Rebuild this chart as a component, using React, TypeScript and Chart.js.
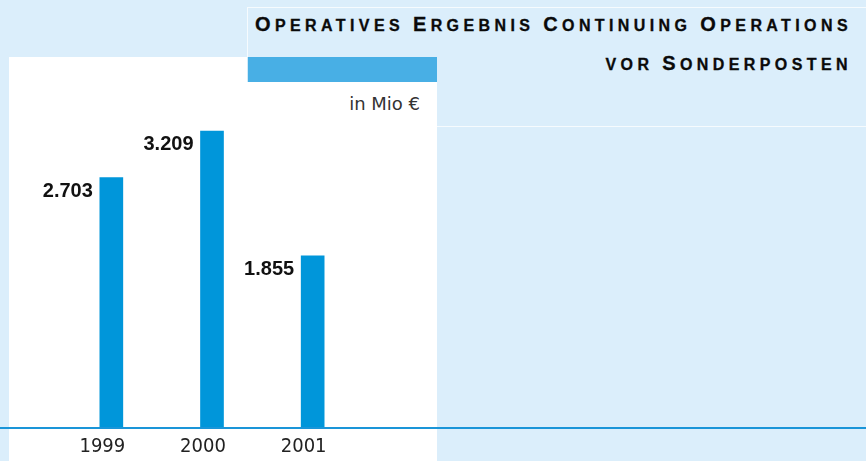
import React, { useEffect, useRef } from 'react';
import { Chart, registerables } from 'chart.js';

Chart.register(...registerables);

// ---- data ----
const categories: string[] = ['1999', '2000', '2001'];
const values: number[] = [2703, 3209, 1855];
const yMin = 0;
const yMax = 4000;
const unitLabel = 'in Mio €';
const titleLine1 = 'Operatives Ergebnis Continuing Operations';
const titleLine2 = 'vor Sonderposten';

// ---- styles ----
const PAGE_BG = '#dbeefb';
const BAR_COLOR = '#0096da';
const ACCENT = '#48afe5';
const AXIS_COLOR = '#1a95d8';

function formatDE(v: number): string {
  const s = String(Math.round(v));
  return s.replace(/\B(?=(\d{3})+(?!\d))/g, '.');
}

function SmallCaps({ text }: { text: string }) {
  const runs: { big: boolean; t: string }[] = [];
  for (const ch of text) {
    const big = ch !== ' ' && ch === ch.toUpperCase() && ch !== ch.toLowerCase();
    const last = runs[runs.length - 1];
    if (last && last.big === big) last.t += ch;
    else runs.push({ big, t: ch });
  }
  return (
    <>
      {runs.map((r, i) => (
        <span
          key={i}
          style={{ fontSize: r.big ? 20 : 16, textTransform: 'uppercase' }}
        >
          {r.t}
        </span>
      ))}
    </>
  );
}

const valueLabelsPlugin = {
  id: 'valueLabels',
  afterDatasetsDraw(chart: any) {
    const ctx = chart.ctx;
    const meta = chart.getDatasetMeta(0);
    ctx.save();
    ctx.font = 'bold 20px "Liberation Sans", Arial, sans-serif';
    ctx.fillStyle = '#111111';
    ctx.textAlign = 'right';
    ctx.textBaseline = 'alphabetic';
    meta.data.forEach((bar: any, i: number) => {
      const { x, y, width } = bar.getProps(['x', 'y', 'width'], true);
      ctx.fillText(formatDE(values[i]), x - width / 2 - 7, y + 19);
    });
    ctx.restore();
  },
};

const axisLinePlugin = {
  id: 'axisLine',
  afterDatasetsDraw(chart: any) {
    const ctx = chart.ctx;
    const y = Math.round(chart.scales.y.getPixelForValue(0));
    ctx.save();
    ctx.fillStyle = AXIS_COLOR;
    ctx.fillRect(0, y, chart.width, 2);
    ctx.restore();
  },
};

const titleStyle: React.CSSProperties = {
  position: 'absolute',
  right: 14,
  fontFamily: '"Liberation Sans", Arial, sans-serif',
  fontWeight: 'bold',
  fontSize: 20,
  lineHeight: '20px',
  letterSpacing: 4.4,
  color: '#0a0a0a',
  whiteSpace: 'nowrap',
  WebkitTextStroke: '0.3px #0a0a0a',
};

export default function App() {
  const canvasRef = useRef<HTMLCanvasElement | null>(null);

  useEffect(() => {
    if (!canvasRef.current) return;
    const chart = new Chart(canvasRef.current, {
      type: 'bar',
      data: {
        labels: categories,
        datasets: [
          {
            data: values,
            backgroundColor: BAR_COLOR,
            borderWidth: 0,
            barThickness: 23,
          },
        ],
      },
      options: {
        responsive: false,
        animation: false,
        devicePixelRatio: 1,
        layout: { padding: { left: 61, right: 503, top: 58, bottom: 0 } },
        plugins: {
          legend: { display: false },
          tooltip: { enabled: false },
          title: { display: false },
        },
        scales: {
          x: {
            grid: { display: false, drawTicks: false },
            border: { display: false },
            ticks: {
              color: '#222222',
              padding: 8,
              labelOffset: -9,
              font: { family: '"DejaVu Sans Condensed", "DejaVu Sans", sans-serif', size: 20 },
            },
            afterFit: (scale: any) => {
              scale.height = 34;
            },
          },
          y: {
            display: false,
            min: yMin,
            max: yMax,
          },
        },
      },
      plugins: [valueLabelsPlugin, axisLinePlugin],
    });
    return () => chart.destroy();
  }, []);

  return (
    <div
      style={{
        position: 'absolute',
        left: 0,
        top: 0,
        width: 866,
        height: 461,
        overflow: 'hidden',
        background: PAGE_BG,
      }}
    >
      <div
        style={{
          position: 'absolute',
          left: 9,
          top: 57,
          width: 428,
          height: 404,
          background: '#ffffff',
        }}
      />
      <div
        style={{
          position: 'absolute',
          left: 247,
          top: 57,
          width: 190,
          height: 25,
          background: ACCENT,
        }}
      />
      <div
        style={{
          position: 'absolute',
          left: 247,
          top: 7,
          width: 640,
          height: 118,
          border: '1px solid rgba(255,255,255,0.75)',
          pointerEvents: 'none',
        }}
      />
      <div style={{ ...titleStyle, top: 14 }}>
        <SmallCaps text={titleLine1} />
      </div>
      <div style={{ ...titleStyle, top: 53 }}>
        <SmallCaps text={titleLine2} />
      </div>
      <div
        style={{
          position: 'absolute',
          right: 446,
          top: 95,
          fontFamily: '"DejaVu Sans", sans-serif',
          fontSize: 18,
          lineHeight: '18px',
          color: '#333333',
          whiteSpace: 'nowrap',
        }}
      >
        {unitLabel}
      </div>
      <canvas
        ref={canvasRef}
        width={866}
        height={461}
        style={{ position: 'absolute', left: 0, top: 0, width: 866, height: 461 }}
      />
    </div>
  );
}
